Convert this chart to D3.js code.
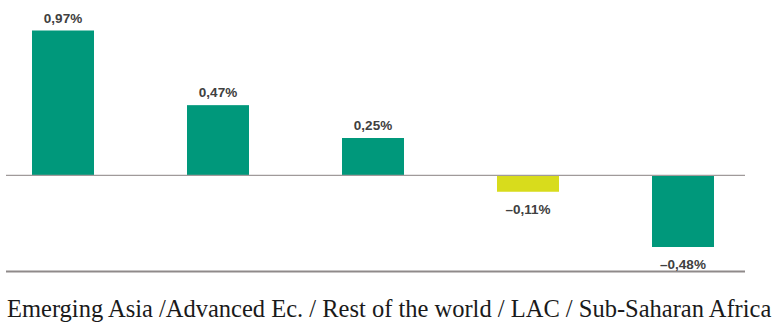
<!DOCTYPE html>
<html>
<head>
<meta charset="UTF-8" />
<script src="https://d3js.org/d3.v7.min.js"></script>
<style>
	body { margin: 0; background: #fff; }
</style>
</head>
<body>
<div id="main"></div>
<script>
	var regions = ['Emerging Asia', 'Advanced Ec.', 'Rest of the world', 'LAC', 'Sub-Saharan Africa'];
	var values = [0.97, 0.47, 0.25, -0.11, -0.48];
	var labels = ['0,97%', '0,47%', '0,25%', '\u20130,11%', '\u20130,48%'];
	var barColors = ['#00987b', '#00987b', '#00987b', '#d8dc1c', '#00987b'];
	var caption = 'Emerging Asia /Advanced Ec. / Rest of the world / LAC / Sub-Saharan Africa';

	var width = 772, height = 323;
	var svg = d3.select('#main').append('svg').attr('width', width).attr('height', height);

	var x = d3.scaleBand().domain(regions).range([-14.5, 760.5]).paddingInner(0.6).paddingOuter(0.3);
	var y = d3.scaleLinear().domain([-0.48, 0.97]).range([247, 30.5]);

	// bars
	svg.selectAll('rect.bar').data(values).enter()
		.append('rect').attr('class', 'bar')
		.attr('x', (d, i) => x(regions[i]))
		.attr('width', x.bandwidth())
		.attr('y', d => Math.min(y(d), y(0)))
		.attr('height', d => Math.abs(y(d) - y(0)))
		.attr('fill', (d, i) => barColors[i]);

	// zero line
	svg.append('line')
		.attr('x1', 6).attr('x2', 745)
		.attr('y1', y(0)).attr('y2', y(0))
		.attr('stroke', '#a09a9a').attr('stroke-width', 1.2);

	// bottom line
	svg.append('line')
		.attr('x1', 6).attr('x2', 745)
		.attr('y1', 271.5).attr('y2', 271.5)
		.attr('stroke', '#8f8a8a').attr('stroke-width', 2);

	// value labels
	svg.selectAll('text.val').data(values).enter()
		.append('text').attr('class', 'val')
		.attr('x', (d, i) => x(regions[i]) + x.bandwidth() / 2)
		.attr('y', d => d >= 0 ? y(d) - 8 : y(d) + 22)
		.attr('text-anchor', 'middle')
		.attr('font-family', 'Liberation Sans, Arial, sans-serif')
		.attr('font-weight', 'bold')
		.attr('font-size', '13.5px')
		.attr('fill', '#404040')
		.text((d, i) => labels[i]);

	// caption
	svg.append('text')
		.attr('x', 7).attr('y', 317)
		.attr('font-family', 'Liberation Serif, Times New Roman, serif')
		.attr('font-size', '24.5px')
		.attr('fill', '#1a1a1a')
		.text(caption);
</script>
</body>
</html>
